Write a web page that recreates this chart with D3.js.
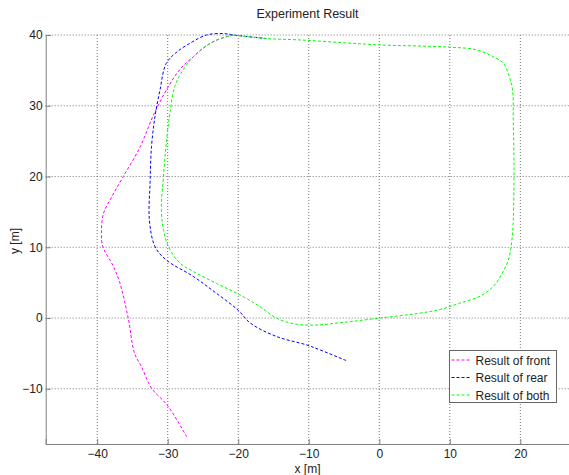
<!DOCTYPE html>
<html>
<head>
<meta charset="utf-8">
<script src="https://cdn.jsdelivr.net/npm/d3@7"></script>
<style>
  body { margin: 0; background: #fff; }
  svg { display: block; font-family: "Liberation Sans", Arial, sans-serif; }
</style>
</head>
<body>
<svg id="chart" width="569" height="475"></svg>
<script>
// trajectories [x, y] in metres
const frontPath = [
  [-27.3, -16.8], [-30.0, -12.4], [-32.3, -9.9], [-33.7, -6.9], [-34.7, -5.0],
  [-35.6, 0.0], [-36.8, 5.0], [-37.7, 7.3], [-39.2, 10.1], [-39.4, 12.0],
  [-39.1, 14.8], [-37.9, 17.2], [-36.3, 20.0], [-33.9, 24.2], [-32.1, 28.5],
  [-30.2, 32.2], [-28.3, 35.1], [-26.4, 36.9], [-24.0, 38.8], [-21.6, 39.8], [-20.5, 40.0]
];
const rearPath = [
  [-4.7, -6.0], [-8.4, -4.5], [-10.3, -3.8], [-14.6, -2.6], [-18.3, -0.7],
  [-20.0, 1.1], [-23.1, 3.5], [-26.4, 5.9], [-30.2, 8.2], [-31.8, 10.1],
  [-32.6, 13.9], [-32.5, 19.1], [-32.3, 24.2], [-31.8, 28.5], [-31.1, 32.2],
  [-30.2, 36.0], [-28.7, 37.6], [-26.9, 38.8], [-24.5, 40.0], [-22.1, 40.2],
  [-20.7, 40.0], [-16.0, 39.5]
];
const bothPath = [
  [-20.7, 40.0], [-16.0, 39.5], [-11.2, 39.3], [-5.0, 38.9], [0.1, 38.6],
  [9.6, 38.3], [13.8, 37.9], [16.2, 36.9], [17.6, 36.0], [18.5, 33.9],
  [18.9, 32.2], [19.0, 28.0], [19.1, 21.4], [19.0, 13.9], [18.8, 11.0],
  [18.3, 8.2], [17.4, 6.3], [16.2, 4.5], [14.3, 3.1], [11.4, 2.1],
  [8.6, 1.2], [5.8, 0.7], [0.1, 0.0], [-5.0, -0.6], [-9.4, -1.0],
  [-12.2, -0.8], [-14.6, 0.0], [-16.9, 1.6], [-19.8, 3.3], [-23.1, 4.9],
  [-26.4, 6.6], [-28.3, 7.8], [-29.9, 10.1], [-30.6, 12.5], [-30.9, 15.3],
  [-30.6, 20.0], [-30.2, 24.7], [-29.7, 28.9], [-29.0, 32.7], [-27.8, 35.1],
  [-25.9, 37.4], [-23.5, 39.1], [-20.7, 40.0]
];
const seriesNames = ["Result of front", "Result of rear", "Result of both"];
const seriesColors = ["#ff00ff", "#0000ff", "#00ff00"];
const xTicks = [-40, -30, -20, -10, 0, 10, 20];
const yTicks = [-10, 0, 10, 20, 30, 40];

const svg = d3.select("#chart");
const m = { left: 45.7, right: 569.7, top: 35, bottom: 444 };

const x = d3.scaleLinear().domain([-47.3, 27]).range([m.left, m.right]);
const y = d3.scaleLinear().domain([-17.8, 40]).range([m.bottom, m.top]);

// Grid
const grid = svg.append("g");
xTicks.forEach(t => {
  grid.append("line")
    .attr("x1", x(t)).attr("x2", x(t)).attr("y1", m.top).attr("y2", m.bottom)
    .attr("stroke", "#777").attr("stroke-width", 1).attr("stroke-dasharray", "1,2");
});
yTicks.forEach(t => {
  grid.append("line")
    .attr("x1", m.left).attr("x2", m.right).attr("y1", y(t)).attr("y2", y(t))
    .attr("stroke", "#777").attr("stroke-width", 1).attr("stroke-dasharray", "1,2");
});

// Axes
svg.append("g").attr("transform", `translate(0,${m.bottom})`)
  .call(d3.axisBottom(x).tickValues(xTicks).tickSize(-5).tickPadding(5))
  .call(g => g.select(".domain").attr("stroke", "#808080"))
  .call(g => g.selectAll("line").attr("stroke", "#808080"))
  .call(g => g.selectAll("text").attr("fill", "#222").attr("font-size", 12)
    .attr("font-family", "Liberation Sans, Arial, sans-serif"));
svg.append("g").attr("transform", `translate(${m.left},0)`)
  .call(d3.axisLeft(y).tickValues(yTicks).tickSize(-5).tickPadding(3))
  .call(g => g.select(".domain").attr("stroke", "#808080"))
  .call(g => g.selectAll("line").attr("stroke", "#808080"))
  .call(g => g.selectAll("text").attr("fill", "#222").attr("font-size", 12)
    .attr("font-family", "Liberation Sans, Arial, sans-serif"));

// Lines
const line = d3.line().x(d => x(d[0])).y(d => y(d[1])).curve(d3.curveCatmullRom);
[frontPath, rearPath, bothPath].forEach((path, i) => {
  svg.append("path").datum(path)
    .attr("d", line)
    .attr("fill", "none")
    .attr("stroke", seriesColors[i])
    .attr("stroke-width", 1)
    .attr("stroke-dasharray", "3,2");
});

// Labels
svg.append("text").attr("x", 307.5).attr("y", 18).attr("text-anchor", "middle")
  .attr("font-size", 12.5).attr("fill", "#222").text("Experiment Result");
svg.append("text").attr("x", 307.5).attr("y", 473).attr("text-anchor", "middle")
  .attr("font-size", 12).attr("fill", "#222").text("x [m]");
svg.append("text").attr("text-anchor", "middle")
  .attr("transform", `translate(19,${241}) rotate(-90)`)
  .attr("font-size", 12).attr("fill", "#222").text("y [m]");

// Legend
const legend = svg.append("g").attr("transform", "translate(449.5,350.5)");
legend.append("rect").attr("width", 107).attr("height", 52)
  .attr("fill", "#fff").attr("stroke", "#666").attr("stroke-width", 1);
seriesNames.forEach((name, i) => {
  const ly = 9.5 + i * 17.5;
  legend.append("line").attr("x1", 2).attr("x2", 22).attr("y1", ly).attr("y2", ly)
    .attr("stroke", seriesColors[i]).attr("stroke-width", 1).attr("stroke-dasharray", "3,2");
  legend.append("text").attr("x", 26).attr("y", ly + 4.5)
    .attr("font-size", 12).attr("fill", "#222").text(name);
});
</script>
</body>
</html>
